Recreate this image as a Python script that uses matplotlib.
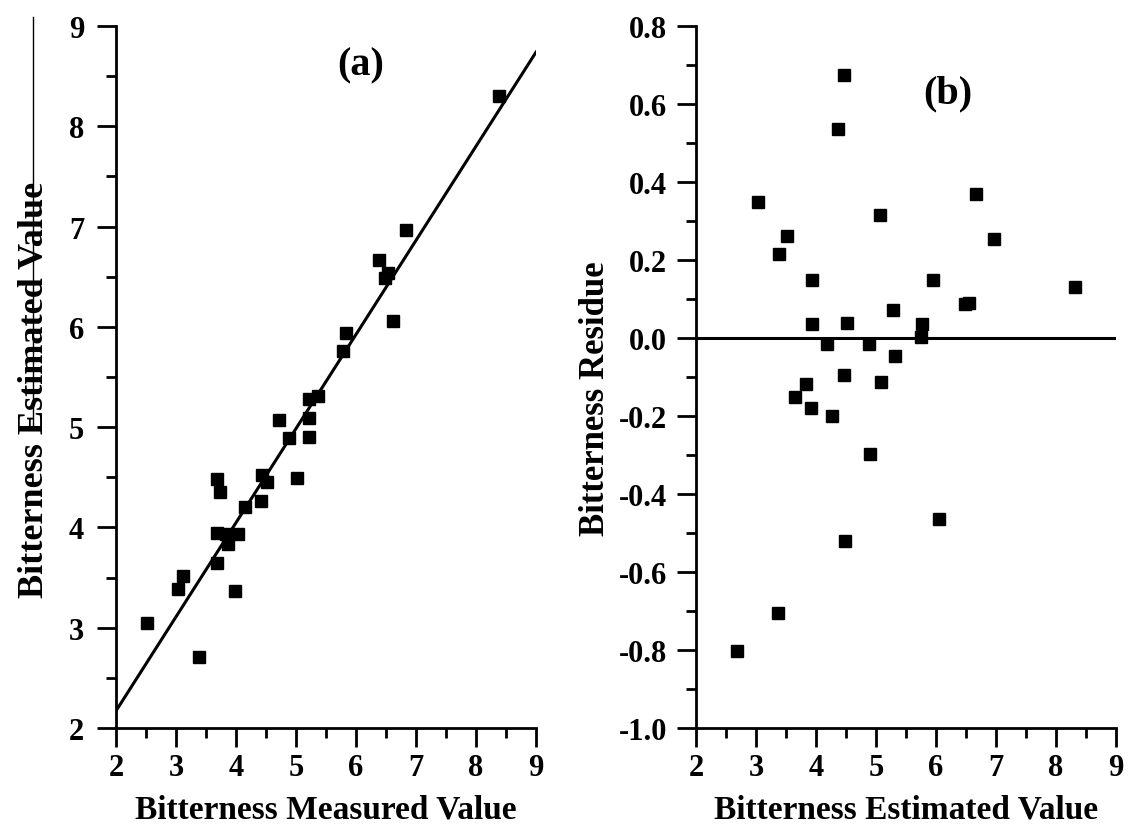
import matplotlib
matplotlib.use("Agg")
import matplotlib.pyplot as plt
from matplotlib.ticker import MultipleLocator, FormatStrFormatter
from matplotlib.lines import Line2D

plt.rcParams['font.family'] = ['Liberation Serif', 'DejaVu Serif']
plt.rcParams['font.weight'] = 'bold'
plt.rcParams['axes.unicode_minus'] = False

# panel (a): measured vs estimated
measured = [2.52, 3.03, 3.12, 3.38, 3.69, 3.99, 3.69, 3.83, 3.87, 4.03,
            3.69, 3.73, 4.15, 4.42, 4.44, 4.51, 5.01, 4.72, 4.88, 5.21,
            5.22, 5.22, 5.37, 5.79, 5.84, 6.39, 6.48, 6.54, 6.62, 6.83, 8.39]
estimated = [3.05, 3.39, 3.52, 2.71, 3.65, 3.37, 3.94, 3.93, 3.84, 3.93,
             4.48, 4.35, 4.20, 4.26, 4.52, 4.45, 4.49, 5.07, 4.89, 4.90,
             5.09, 5.28, 5.31, 5.76, 5.94, 6.67, 6.49, 6.54, 6.06, 6.97, 8.30]
fit_x = [2.0, 9.0]
fit_y = [2.17, 8.74]

# panel (b): estimated vs residue
est_b = [2.69, 3.04, 3.36, 3.38, 3.51, 3.65, 3.83, 3.91, 3.93, 3.94,
         4.19, 4.27, 4.37, 4.46, 4.47, 4.49, 4.52, 4.89, 4.90, 5.06,
         5.09, 5.28, 5.31, 5.75, 5.77, 5.95, 6.05, 6.48, 6.55, 6.66,
         6.97, 8.32]
residue = [-0.803, 0.350, -0.704, 0.215, 0.262, -0.150, -0.119, -0.180, 0.036, 0.150,
           -0.015, -0.199, 0.536, -0.095, 0.674, -0.520, 0.039, -0.015, -0.297, 0.316,
           -0.114, 0.073, -0.045, 0.002, 0.035, 0.150, -0.463, 0.086, 0.089, 0.369,
           0.253, 0.130]


def style_axis(ax, ypad):
    for side in ['top', 'right']:
        ax.spines[side].set_visible(False)
    for side in ['left', 'bottom']:
        ax.spines[side].set_linewidth(2.0)
    ax.tick_params(which='major', direction='out', length=14, width=2.0, labelsize=22)
    ax.tick_params(which='minor', direction='out', length=7, width=2.0)
    ax.tick_params(axis='x', which='major', pad=4)
    ax.tick_params(axis='y', which='major', pad=ypad)
    for lab in ax.get_xticklabels() + ax.get_yticklabels():
        lab.set_fontweight('bold')


fig = plt.figure(figsize=(11.28, 8.37), dpi=100)
ax1 = fig.add_axes([0.1028, 0.129, 0.3724, 0.8387])
ax2 = fig.add_axes([0.617, 0.129, 0.3724, 0.8387])

ax1.plot(fit_x, fit_y, color='black', lw=2.2, zorder=2)
ax1.plot(measured, estimated, 's', color='black', ms=9, zorder=3)
ax1.set_xlim(2, 9)
ax1.set_ylim(2, 9)
ax1.xaxis.set_major_locator(MultipleLocator(1))
ax1.xaxis.set_minor_locator(MultipleLocator(0.5))
ax1.yaxis.set_major_locator(MultipleLocator(1))
ax1.yaxis.set_minor_locator(MultipleLocator(0.5))
ax1.set_xlabel('Bitterness Measured Value', fontsize=24, fontweight='bold')
ax1.set_ylabel('Bitterness Estimated Value', fontsize=26, fontweight='bold')
ax1.xaxis.set_label_coords(0.5, -0.093)
ax1.yaxis.set_label_coords(-0.155, 0.483)
ax1.text(0.582, 0.945, '(a)', transform=ax1.transAxes, ha='center', va='center',
         fontsize=29, fontweight='bold')
style_axis(ax1, 9)

ax2.axhline(0, color='black', lw=2.2, zorder=2)
ax2.plot(est_b, residue, 's', color='black', ms=9, zorder=3)
ax2.set_xlim(2, 9)
ax2.set_ylim(-1.0, 0.8)
ax2.xaxis.set_major_locator(MultipleLocator(1))
ax2.xaxis.set_minor_locator(MultipleLocator(0.5))
ax2.yaxis.set_major_locator(MultipleLocator(0.2))
ax2.yaxis.set_minor_locator(MultipleLocator(0.1))
ax2.yaxis.set_major_formatter(FormatStrFormatter('%.1f'))
ax2.set_xlabel('Bitterness Estimated Value', fontsize=24, fontweight='bold')
ax2.set_ylabel('Bitterness Residue', fontsize=25, fontweight='bold')
ax2.xaxis.set_label_coords(0.5, -0.093)
ax2.yaxis.set_label_coords(-0.2, 0.47)
ax2.text(0.6, 0.905, '(b)', transform=ax2.transAxes, ha='center', va='center',
         fontsize=29, fontweight='bold')
style_axis(ax2, 7)

# thin stray rule at the left edge of the scanned figure
fig.add_artist(Line2D([0.029, 0.029], [0.489, 0.978], color='black', lw=1.0))

fig.savefig('out.png', dpi=100)
